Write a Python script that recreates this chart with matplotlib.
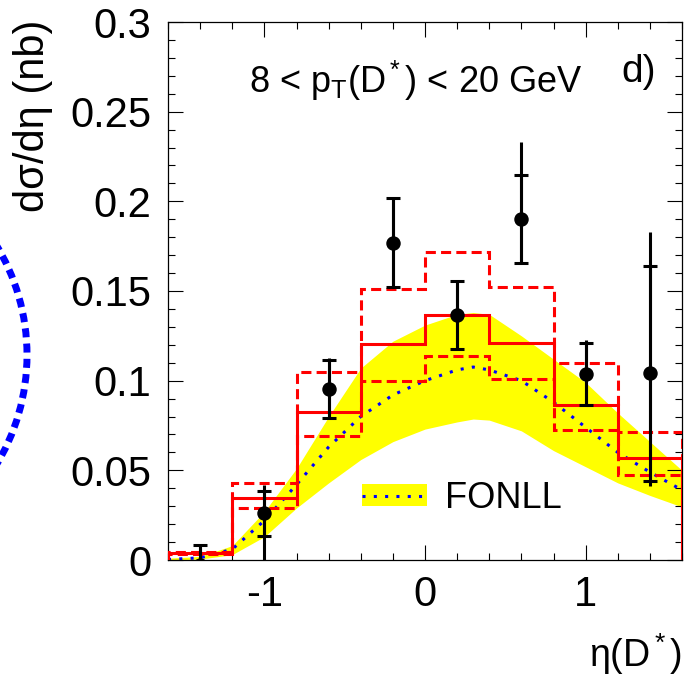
import matplotlib
matplotlib.use('Agg')
import matplotlib.pyplot as plt
import numpy as np

from matplotlib.lines import Line2D
from matplotlib.patches import Arc, Patch
from matplotlib.ticker import FixedLocator, MultipleLocator

plt.rcParams['font.family'] = ['Liberation Sans', 'DejaVu Sans']
plt.rcParams['mathtext.fontset'] = 'custom'
plt.rcParams['mathtext.rm'] = 'Liberation Sans'
plt.rcParams['mathtext.it'] = 'Liberation Sans'
plt.rcParams['mathtext.default'] = 'rm'

# eta(D*) binning
bin_edges = [-1.6, -1.2, -0.8, -0.4, 0.0, 0.4, 0.8, 1.2, 1.6]
bin_centres = [-1.4, -1.0, -0.6, -0.2, 0.2, 0.6, 1.0, 1.4]

# measured dsigma/deta (nb), stat errors and total errors
data_xsec = [-0.003, 0.026, 0.0954, 0.177, 0.1366, 0.190, 0.1037, 0.104]
stat_err = [0.0114, 0.0125, 0.016, 0.025, 0.019, 0.0245, 0.0173, 0.060]
tot_err_lo = [0.0114, 0.026, 0.016, 0.025, 0.019, 0.0245, 0.0173, 0.063]
tot_err_hi = [0.0114, 0.016, 0.017, 0.025, 0.019, 0.043, 0.019, 0.079]

# MC histogram with its upper / lower variations
mc_central = [0.0039, 0.0346, 0.0825, 0.1205, 0.1366, 0.121, 0.0864, 0.0568]
mc_upper = [0.0047, 0.043, 0.105, 0.151, 0.1718, 0.152, 0.110, 0.0714]
mc_lower = [0.0032, 0.029, 0.069, 0.100, 0.1138, 0.101, 0.0725, 0.0474]

# FONLL prediction: central value and uncertainty band
fonll_eta = [-1.6, -1.4, -1.2, -1.0, -0.8, -0.6, -0.4, -0.2, 0.0, 0.2, 0.3,
             0.4, 0.6, 0.8, 1.0, 1.2, 1.4, 1.6]
fonll_central = [0.0003, 0.0012, 0.006, 0.022, 0.042, 0.063, 0.080, 0.092,
                 0.100, 0.106, 0.1076, 0.106, 0.100, 0.088, 0.074, 0.060,
                 0.049, 0.039]
fonll_upper = [0.001, 0.002, 0.008, 0.027, 0.051, 0.080, 0.107, 0.122, 0.131,
               0.137, 0.138, 0.137, 0.125, 0.112, 0.099, 0.082, 0.066, 0.050]
fonll_lower = [0.0, 0.0005, 0.003, 0.013, 0.029, 0.043, 0.056, 0.066, 0.073,
               0.077, 0.0786, 0.078, 0.072, 0.061, 0.052, 0.043, 0.036, 0.0296]

y_ticks = [0, 0.05, 0.1, 0.15, 0.2, 0.25, 0.3]
y_tick_labels = ['0', '0.05', '0.1', '0.15', '0.2', '0.25', '0.3']
x_ticks = [-1, 0, 1]
x_tick_labels = ['-1', '0', '1']

W, H = 685, 677
RED = '#ff0000'
BLUE = '#0000ff'
YELLOW = '#ffff00'

fig = plt.figure(figsize=(W / 100, H / 100), dpi=100)

# dotted arc sticking in from the neighbouring panel
arc_ax = fig.add_axes([0, 0, 1, 1], zorder=-1)
arc_ax.set_xlim(0, W)
arc_ax.set_ylim(H, 0)
arc_ax.axis('off')
arc_ax.add_patch(Arc((-185, 355), 424, 424, theta1=-32, theta2=32,
                     color=BLUE, lw=5, linestyle=(0, (1.3, 0.9))))

ax = fig.add_axes([168 / W, 117 / H, (682 - 168) / W, (560 - 22) / H])

ax.fill_between(fonll_eta, fonll_lower, fonll_upper, color=YELLOW,
                lw=0, zorder=1)
ax.plot(fonll_eta, fonll_central, color=BLUE, lw=2.2, ls=(0, (1, 2.7)),
        zorder=2)

ax.stairs(mc_central, bin_edges, color=RED, lw=2.2, zorder=3)
ax.stairs(mc_upper, bin_edges, color=RED, lw=2.2, ls=(0, (3.3, 1.7)),
          zorder=3)
ax.stairs(mc_lower, bin_edges, color=RED, lw=2.2, ls=(0, (3.3, 1.7)),
          zorder=3)

ax.errorbar(bin_centres, data_xsec, yerr=[tot_err_lo, tot_err_hi],
            fmt='none', ecolor='black', elinewidth=2.2, capsize=0, zorder=5)
ax.errorbar(bin_centres, data_xsec, yerr=stat_err, fmt='o', color='black',
            ms=9.4, elinewidth=2.2, capsize=4.7, capthick=2.2, zorder=6)

ax.set_xlim(-1.6, 1.6)
ax.set_ylim(0, 0.3)

ax.xaxis.set_major_locator(FixedLocator(x_ticks))
ax.set_xticklabels(x_tick_labels)
ax.xaxis.set_minor_locator(MultipleLocator(0.2))
ax.yaxis.set_major_locator(FixedLocator(y_ticks))
ax.set_yticklabels(y_tick_labels)
ax.yaxis.set_minor_locator(MultipleLocator(0.01))

ax.tick_params(which='both', direction='in', top=True, right=True,
               width=0.8, labelsize=30)
ax.tick_params(which='major', length=11)
ax.tick_params(which='minor', length=5)
ax.tick_params(axis='y', pad=12)
ax.tick_params(axis='x', pad=11)
for sp in ax.spines.values():
    sp.set_linewidth(0.9)

# legend: yellow band with the dotted central line on top
band_handle = Patch(facecolor=YELLOW, edgecolor='none')
line_handle = Line2D([], [], color=BLUE, lw=2.2, ls=(0, (1, 2.7)))
ax.legend([(band_handle, line_handle)], ['FONLL'], loc='center left',
          bbox_to_anchor=((362 - 168) / 514, (560 - 498) / 538),
          frameon=False, fontsize=26, handlelength=1.8, handleheight=0.58,
          handletextpad=0.5, borderpad=0, borderaxespad=0)

fig.text(249 / W, 1 - 93 / H, r'8 < $p_T(D^*)$ < 20 GeV', fontsize=26,
         va='baseline')
fig.text(621 / W, 1 - 82 / H, 'd)', fontsize=28, va='baseline')
fig.text(33 / W, 1 - 20 / H, 'dσ/dη (nb)', fontsize=30, rotation=90,
         ha='center', va='top')
fig.text(682 / W, 1 - 667 / H, r'η(D$^*$)', fontsize=27, ha='right',
         va='baseline')

plt.savefig('out.png', dpi=100)
